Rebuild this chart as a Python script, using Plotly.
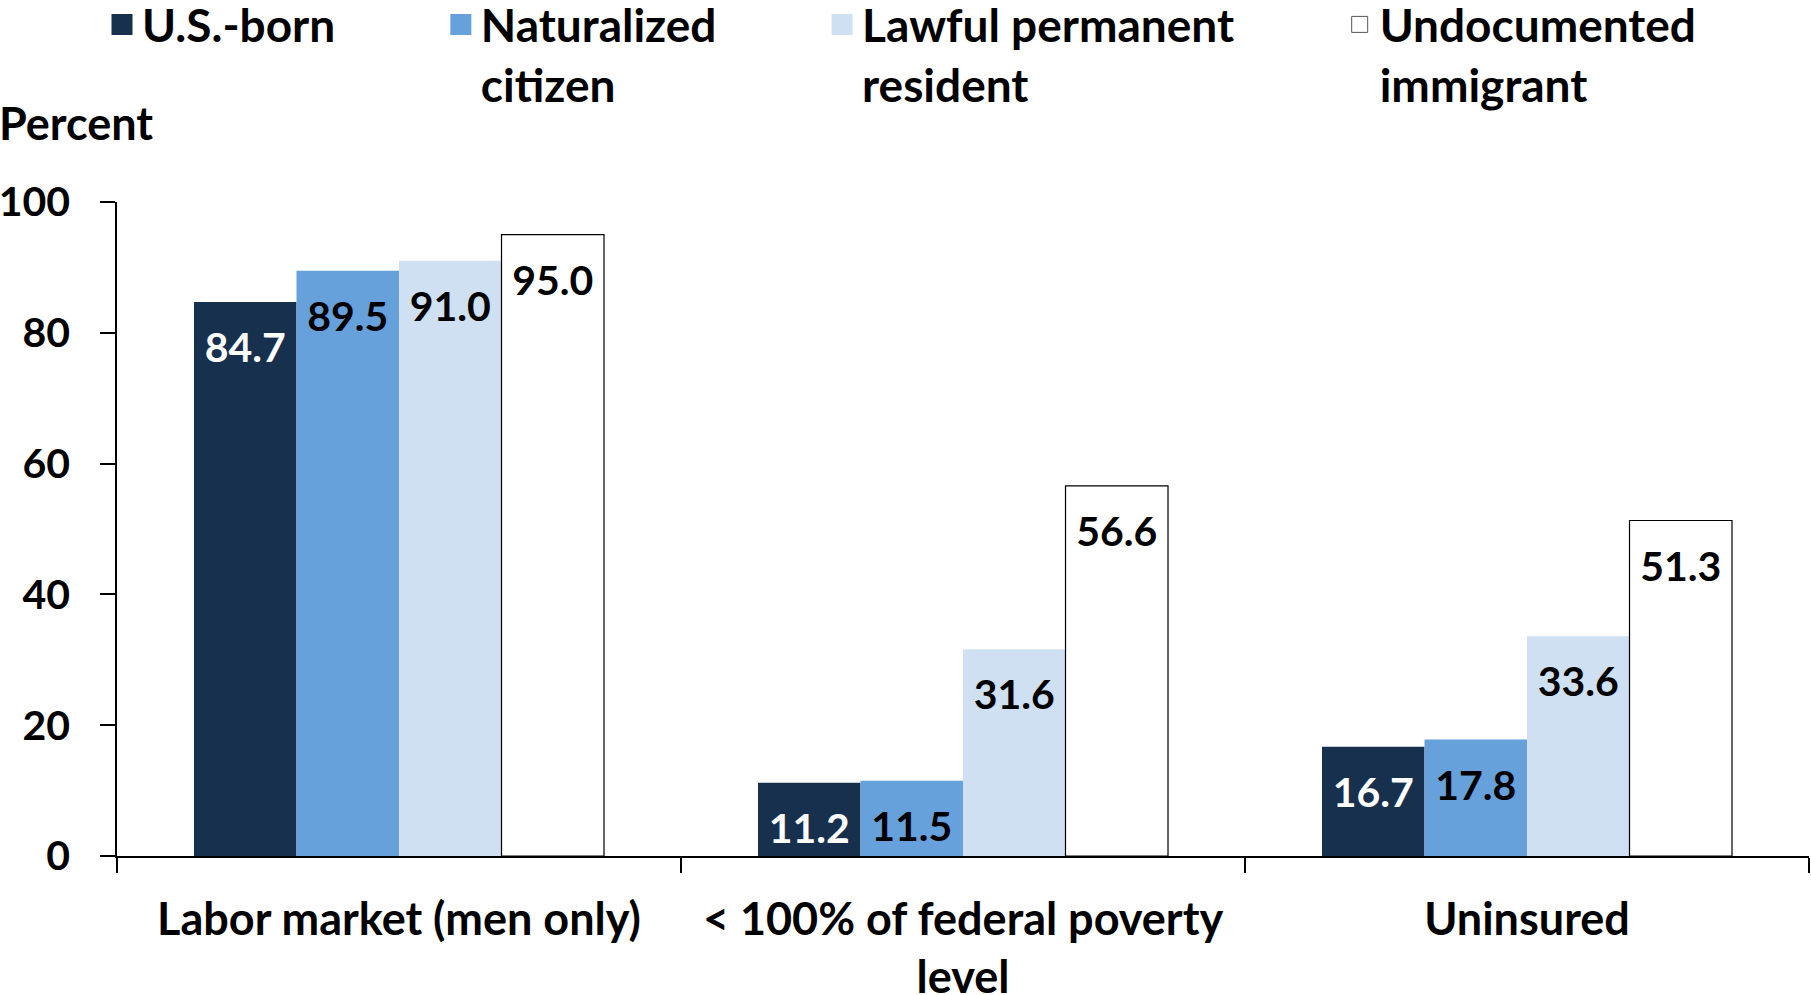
import plotly.graph_objects as go

# ---- data ----
categories = ["Labor market (men only)", "< 100% of federal poverty level", "Uninsured"]
category_labels = ["Labor market (men only)", "&lt; 100% of federal poverty<br>level", "Uninsured"]
series_names = ["U.S.-born", "Naturalized citizen", "Lawful permanent resident", "Undocumented immigrant"]
legend_first = ["U.S.-born", "Naturalized", "Lawful permanent", "Undocumented"]
legend_second = ["", "citizen", "resident", "immigrant"]
us_born = [84.7, 11.2, 16.7]
naturalized = [89.5, 11.5, 17.8]
lawful_permanent = [91.0, 31.6, 33.6]
undocumented = [95.0, 56.6, 51.3]
y_ticks = [0, 20, 40, 60, 80, 100]

# ---- style ----
FONT = "Lato"
FS_VAL = 41
FS_TXT = 46
fills = ["#16304E", "#66A1DC", "#CFE0F2", "#FFFFFF"]
outlines = ["#16304E", "#66A1DC", "#CFE0F2", "#000000"]
outline_w = [0, 0, 0, 1.2]
text_colors = ["#FFFFFF", "#000000", "#000000", "#000000"]
values = [us_born, naturalized, lawful_permanent, undocumented]
legend_line_col = ["#16304E", "#66A1DC", "#CFE0F2", "#555555"]
legend_line_w = [5, 5, 5, 1]
NB = "\u00a0"
legend_gap = "<span style='font-size:46px'>" + NB * 9 + "</span>"

W, H = 1811, 995
ML, MR, MT, MB = 117, 2, 202, 139
PH = H - MT - MB
PW = W - ML - MR

# spacer spans push the value labels a little down from the bar top
spacer = "<span style='font-size:58px'>" + NB + "</span>"
fig = go.Figure()
for name, vals, fc, lc, lw, tc in zip(series_names, values, fills, outlines, outline_w, text_colors):
    fig.add_trace(go.Bar(
        name=name, x=categories, y=vals,
        marker=dict(color=fc, line=dict(color=lc, width=lw)),
        texttemplate=spacer + "%{y:.1f}" + spacer,
        textposition="inside", insidetextanchor="end", textangle=0,
        constraintext="none",
        textfont=dict(family=FONT, size=FS_VAL, color=tc, weight="bold"),
        showlegend=False, hoverinfo="skip",
    ))

# legend proxies (square markers)
for i, (l1, l2, fc, lc, lw) in enumerate(zip(legend_first, legend_second, fills, legend_line_col, legend_line_w)):
    pad = legend_gap if i < len(legend_first) - 1 else ""
    lab = l1 + pad + ("<br>" + l2 if l2 else "")
    fig.add_trace(go.Scatter(
        x=[None], y=[None], mode="markers", name=lab,
        marker=dict(symbol="square", size=16, color=fc, line=dict(color=lc, width=lw)),
        showlegend=True,
    ))

fig.update_layout(
    width=W, height=H,
    margin=dict(l=ML, r=MR, t=MT, b=MB, pad=0, autoexpand=False),
    paper_bgcolor="white", plot_bgcolor="white",
    font=dict(family=FONT, size=FS_TXT, color="black", weight="bold"),
    barmode="group", bargap=0.273, bargroupgap=0,
    legend=dict(
        orientation="h", xref="container", yref="paper",
        x=102 / W, y=(H - MB + 12) / PH, xanchor="left", yanchor="top",
        valign="top", font=dict(family=FONT, size=FS_TXT, color="black", weight="bold"),
        itemwidth=30, tracegroupgap=0, bgcolor="rgba(0,0,0,0)",
    ),
    annotations=[dict(
        text="Percent", xref="paper", yref="paper",
        x=-ML / PW, y=(H - MB - 123) / PH, xshift=-3,
        xanchor="left", yanchor="middle", showarrow=False,
        font=dict(family=FONT, size=45, color="black", weight="bold"),
    )],
)

fig.update_xaxes(
    type="category", tickvals=categories, ticktext=category_labels,
    showline=True, linecolor="black", linewidth=1.5, automargin=False,
    ticks="outside", tickson="boundaries", ticklen=15, tickwidth=1.5, tickcolor="black",
    showgrid=False, zeroline=False, ticklabelstandoff=23,
    tickfont=dict(family=FONT, size=45, color="black", weight="bold"),
)
fig.update_yaxes(
    range=[0, 100], tickvals=y_ticks,
    showline=True, linecolor="black", linewidth=1.5, automargin=False,
    ticks="outside", ticklen=15, tickwidth=1.5, tickcolor="black",
    showgrid=False, zeroline=False, ticklabelstandoff=22,
    tickfont=dict(family=FONT, size=FS_VAL, color="black", weight="bold"),
)

fig.write_html("out.html", config={"displayModeBar": False},
               post_script="document.body.style.margin='0px';")
